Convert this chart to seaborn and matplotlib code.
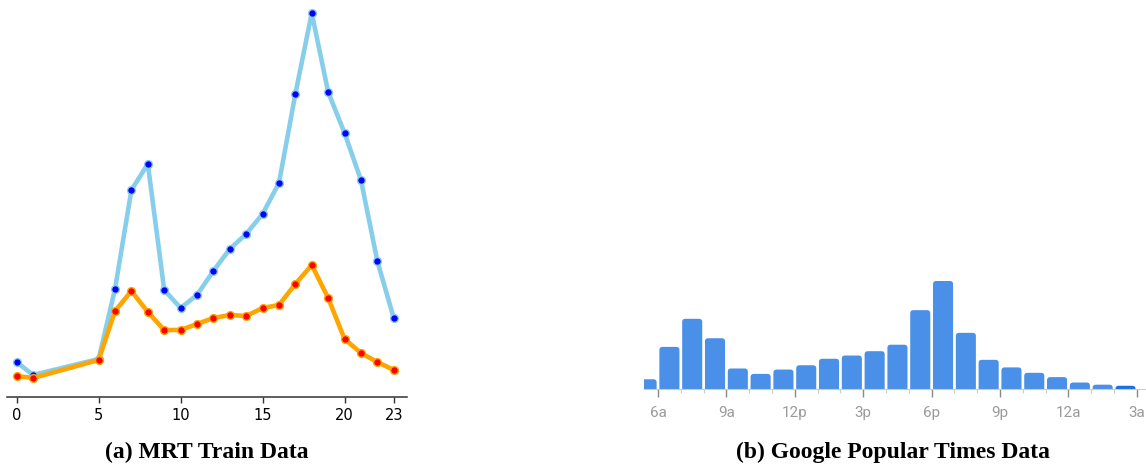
import matplotlib
matplotlib.use("Agg")
import matplotlib.pyplot as plt
from matplotlib.patches import FancyBboxPatch
import seaborn as sns
import numpy as np
import pandas as pd

sns.set_theme(style="white")

# (a) MRT ridership per hour (relative units)
mrt_hours = [0, 1, 5, 6, 7, 8, 9, 10, 11, 12, 13, 14, 15, 16, 17, 18, 19, 20, 21, 22, 23]
mrt_blue = [35, 22, 38, 108, 207, 233, 107, 89, 102, 126, 148, 163, 183, 214, 303, 384, 305, 264, 217, 136, 79]
mrt_orange = [21, 19, 37, 86, 106, 85, 67, 67, 73, 79, 82, 81, 89, 92, 113, 132, 99, 58, 44, 35, 27]
mrt_ticks = [0, 5, 10, 15, 20, 23]

# (b) Google popular times, bar starts at hour (5 = 5a ... 26 = 2a)
gpt_hours = list(range(5, 27))
gpt_values = [9, 39, 65, 47, 19, 14, 18, 22, 28, 31, 35, 41, 73, 100, 52, 27, 20, 15, 11, 6, 4, 3]
gpt_ticks = [6, 9, 12, 15, 18, 21, 24, 27]
gpt_labels = ["6a", "9a", "12p", "3p", "6p", "9p", "12a", "3a"]

W, H = 1146, 467
fig = plt.figure(figsize=(W / 100, H / 100), dpi=100)

# ---- left panel
ax1 = fig.add_axes([7 / W, 70 / H, 400 / W, 397 / H])
df_mrt = pd.DataFrame({"hour": mrt_hours, "blue": mrt_blue, "orange": mrt_orange})
sns.lineplot(data=df_mrt, x="hour", y="blue", ax=ax1, color="skyblue", linewidth=3.3,
             marker="o", markersize=5.6, markerfacecolor="blue", markeredgecolor="skyblue",
             markeredgewidth=1, clip_on=False, zorder=3)
sns.lineplot(data=df_mrt, x="hour", y="orange", ax=ax1, color="orange", linewidth=3.3,
             marker="o", markersize=5.6, markerfacecolor="red", markeredgecolor="orange",
             markeredgewidth=1, clip_on=False, zorder=4)
ax1.set_xticks(mrt_ticks)
ax1.set_yticks([])
ax1.set_xlim(-0.59, 23.81)
ax1.set_ylim(0, 397)
ax1.set_xlabel("")
ax1.set_ylabel("")
for s in ["left", "right", "top"]:
    ax1.spines[s].set_visible(False)
ax1.spines["bottom"].set_color("#333333")
ax1.spines["bottom"].set_linewidth(1.1)
ax1.tick_params(axis="x", bottom=True, length=4, width=1, color="#333333",
                labelsize=10.5, labelcolor="black", pad=4)

# ---- right panel
ax2 = fig.add_axes([644 / W, 78 / H, 502 / W, 108 / H])
df_gpt = pd.DataFrame({"mid": [h + 0.5 for h in gpt_hours], "busy": gpt_values})
sns.barplot(data=df_gpt, x="mid", y="busy", ax=ax2, native_scale=True, orient="x",
            color="#4a8fe8", saturation=1, width=0.88, linewidth=0)
ax2.set_xticks(gpt_ticks)
ax2.set_xticklabels(gpt_labels, family="Roboto")
ax2.set_xticks(gpt_hours + [27], minor=True)
ax2.set_yticks([])
ax2.set_xlim(5.386, 27.4)
ax2.set_ylim(0, 100)
ax2.set_xlabel("")
ax2.set_ylabel("")

# rounded bar tops, like the Google widget
px_x = 502 / (27.4 - 5.386)
px_y = 108 / 100
for i, p in enumerate(list(ax2.patches)):
    x0, w, h = p.get_x(), p.get_width(), p.get_height()
    fc = "#1a6fe6" if i == len(gpt_values) - 1 else "#4a8fe8"
    rb = FancyBboxPatch((x0, -8), w, h + 8, boxstyle="round,pad=0,rounding_size=0.14",
                        mutation_aspect=px_x / px_y, facecolor=fc, edgecolor="none")
    p.remove()
    ax2.add_patch(rb)

for s in ["left", "right", "top"]:
    ax2.spines[s].set_visible(False)
ax2.spines["bottom"].set_color("#cccccc")
ax2.spines["bottom"].set_linewidth(0.8)
ax2.tick_params(axis="x", which="major", bottom=True, length=6, width=1, color="#888888",
                labelsize=11, labelcolor="#9a9a9a", pad=6)
ax2.tick_params(axis="x", which="minor", bottom=True, length=3, width=0.8, color="#cccccc")

# ---- captions
fig.text(207 / W, 1 - 452 / H, "(a) MRT Train Data", ha="center", va="center",
         family="Liberation Serif", fontweight="bold", fontsize=17, color="black")
fig.text(893 / W, 1 - 452 / H, "(b) Google Popular Times Data", ha="center", va="center",
         family="Liberation Serif", fontweight="bold", fontsize=17, color="black")

fig.savefig("out.png", dpi=100)
